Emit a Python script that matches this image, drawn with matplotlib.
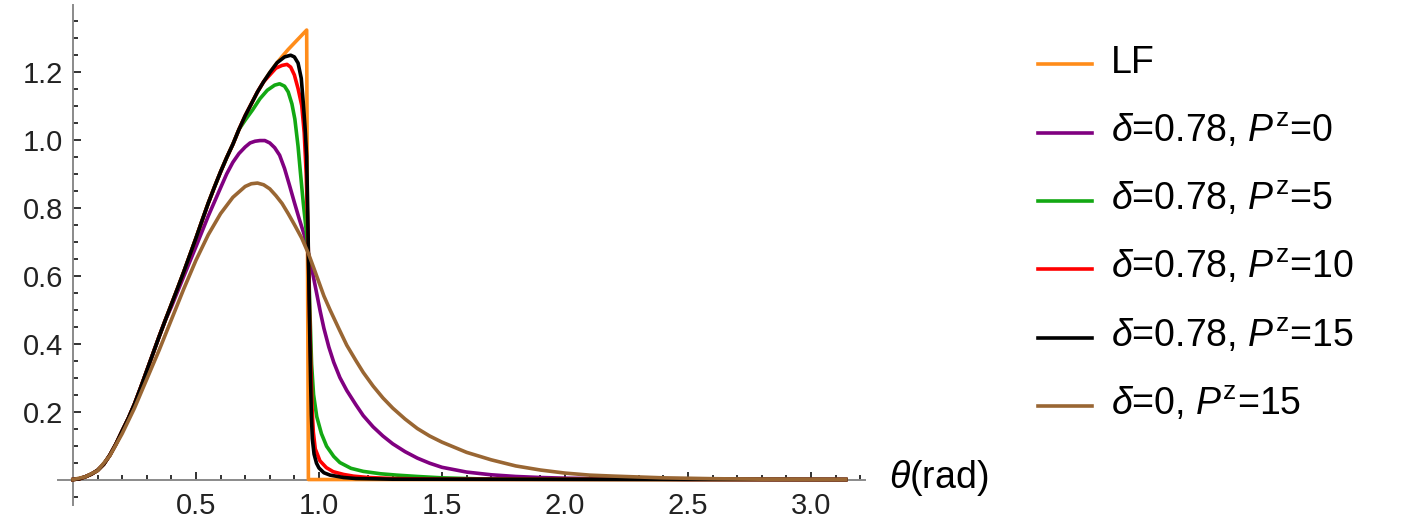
import matplotlib
matplotlib.use("Agg")
import matplotlib.pyplot as plt
from matplotlib.lines import Line2D

plt.rcParams['font.family'] = ['Liberation Sans', 'DejaVu Sans']
plt.rcParams['mathtext.fontset'] = 'custom'
plt.rcParams['mathtext.rm'] = 'Liberation Sans'
plt.rcParams['mathtext.it'] = 'Liberation Sans:italic'

# values
# rising part shared by LF and the delta=0.78 curves (they lie on top of each other)
theta_rise = [0.0, 0.025, 0.05, 0.075, 0.10, 0.125, 0.15, 0.175, 0.20, 0.225, 0.25, 0.275,
              0.30, 0.325, 0.35, 0.375, 0.40, 0.425, 0.45, 0.475, 0.50, 0.525, 0.55, 0.575,
              0.60, 0.625, 0.65, 0.675, 0.70, 0.725, 0.75, 0.775, 0.80]
rise = [0.0, 0.002, 0.008, 0.016, 0.027, 0.045, 0.072, 0.105, 0.143, 0.18, 0.222, 0.27,
        0.32, 0.37, 0.42, 0.468, 0.515, 0.562, 0.61, 0.66, 0.71, 0.762, 0.813, 0.86,
        0.905, 0.947, 0.986, 1.03, 1.07, 1.105, 1.14, 1.17, 1.197]

theta_lf_top = [0.825, 0.85, 0.875, 0.90, 0.925, 0.95, 0.957, 3.1416]
lf_top = [1.222, 1.244, 1.265, 1.284, 1.303, 1.322, 0.0, 0.0]

# purple leaves the shared curve early, so it has its own early part
theta_p0_head = [0.40, 0.45, 0.50, 0.55, 0.60, 0.625, 0.65, 0.675, 0.70]
p0_head = [0.508, 0.597, 0.685, 0.775, 0.858, 0.899, 0.933, 0.959, 0.978]
theta_p0_tail = [0.72, 0.74, 0.76, 0.78, 0.80, 0.82, 0.84, 0.86, 0.88, 0.90, 0.92, 0.94,
                 0.957, 0.975, 0.99, 1.005, 1.02, 1.04, 1.06, 1.085, 1.113, 1.15, 1.18,
                 1.22, 1.26, 1.30, 1.35, 1.40, 1.45, 1.5, 1.6, 1.7, 1.8, 1.9, 2.0, 2.2,
                 2.5, 3.1416]
p0_tail = [0.99, 0.995, 0.997, 0.997, 0.99, 0.976, 0.954, 0.915, 0.866, 0.815, 0.766, 0.72,
           0.665, 0.605, 0.55, 0.495, 0.445, 0.39, 0.345, 0.30, 0.262, 0.22, 0.188,
           0.155, 0.128, 0.105, 0.082, 0.063, 0.048, 0.036, 0.022, 0.014, 0.009, 0.006, 0.004,
           0.002, 0.0005, 0.0]

theta_p5_tail = [0.70, 0.73, 0.76, 0.79, 0.82, 0.84, 0.86, 0.875, 0.89, 0.902, 0.915, 0.925,
                 0.936, 0.947, 0.957, 0.963, 0.970, 0.978, 0.991, 1.01, 1.031, 1.06, 1.085,
                 1.13, 1.18, 1.25, 1.316, 1.4, 1.5, 1.65, 1.8, 3.1416]
p5_tail = [1.057, 1.087, 1.12, 1.145, 1.16, 1.164, 1.157, 1.14, 1.105, 1.06, 0.98, 0.9,
           0.815, 0.74, 0.665, 0.5, 0.34, 0.25, 0.185, 0.135, 0.098, 0.068, 0.05,
           0.033, 0.024, 0.017, 0.013, 0.009, 0.005, 0.002, 0.001, 0.0]

theta_p10_tail = [0.825, 0.85, 0.87, 0.885, 0.90, 0.915, 0.93, 0.94, 0.948, 0.953, 0.957,
                  0.962, 0.967, 0.972, 0.977, 0.985, 1.004, 1.03, 1.058, 1.1, 1.14, 1.2,
                  1.3, 1.5, 3.1416]
p10_tail = [1.21, 1.218, 1.221, 1.213, 1.19, 1.15, 1.10, 1.02, 0.9, 0.78, 0.665,
            0.48, 0.33, 0.21, 0.14, 0.09, 0.055, 0.035, 0.023, 0.015, 0.010, 0.006,
            0.003, 0.001, 0.0]

theta_p15_tail = [0.83, 0.86, 0.885, 0.90, 0.915, 0.928, 0.936, 0.944, 0.95, 0.954, 0.957,
                  0.960, 0.963, 0.966, 0.969, 0.973, 0.98, 0.99, 1.0, 1.02, 1.045, 1.1,
                  1.15, 1.3, 3.1416]
p15_tail = [1.226, 1.243, 1.248, 1.243, 1.225, 1.18, 1.11, 1.03, 0.95, 0.80, 0.665,
            0.53, 0.41, 0.29, 0.19, 0.12, 0.075, 0.048, 0.034, 0.02, 0.013, 0.006,
            0.003, 0.001, 0.0]

theta_d0 = [0.0, 0.05, 0.10, 0.15, 0.20, 0.25, 0.30, 0.35, 0.40, 0.45, 0.50, 0.55, 0.60,
            0.65, 0.70, 0.725, 0.75, 0.775, 0.80, 0.825, 0.85, 0.875, 0.90, 0.93, 0.957,
            0.98, 1.0, 1.02, 1.045, 1.08, 1.113, 1.15, 1.18, 1.22, 1.26, 1.3, 1.35, 1.40,
            1.45, 1.5, 1.6, 1.7, 1.8, 1.9, 2.0, 2.1, 2.2, 2.4, 2.6, 2.8, 3.1416]
d0 = [0.0, 0.008, 0.026, 0.07, 0.135, 0.21, 0.295, 0.38, 0.47, 0.56, 0.645, 0.72, 0.782,
      0.83, 0.862, 0.87, 0.872, 0.867, 0.855, 0.835, 0.812, 0.782, 0.75, 0.71, 0.665,
      0.62, 0.58, 0.54, 0.499, 0.445, 0.395, 0.35, 0.315, 0.275, 0.24, 0.21, 0.178, 0.15,
      0.128, 0.11, 0.08, 0.058, 0.04, 0.028, 0.019, 0.013, 0.01, 0.005, 0.0025, 0.001, 0.0]

labels = ['LF',
          r'$\delta$=0.78, $P^{\rm z}$=0',
          r'$\delta$=0.78, $P^{\rm z}$=5',
          r'$\delta$=0.78, $P^{\rm z}$=10',
          r'$\delta$=0.78, $P^{\rm z}$=15',
          r'$\delta$=0, $P^{\rm z}$=15']
colors = ['#ff8c1a', '#800080', '#13a813', '#ff0000', '#000000', '#996633']

x_major = [0.5, 1.0, 1.5, 2.0, 2.5, 3.0]
y_major = [0.2, 0.4, 0.6, 0.8, 1.0, 1.2]

# assemble each curve from the shared rise and its own part
series = [
    (theta_rise + theta_lf_top, rise + lf_top),
    (theta_rise[:16] + theta_p0_head + theta_p0_tail, rise[:16] + p0_head + p0_tail),
    (theta_rise[:28] + theta_p5_tail, rise[:28] + p5_tail),
    (theta_rise + theta_p10_tail, rise[:32] + [1.19] + p10_tail),
    (theta_rise + theta_p15_tail, rise + p15_tail),
    (theta_d0, d0),
]

W, H = 1415, 521
fig = plt.figure(figsize=(W / 100, H / 100), dpi=100)
ax = fig.add_axes([58.2 / W, 16.3 / H, 806.9 / W, 499.8 / H])

for (tx, ty), c in zip(series, colors):
    ax.plot(tx, ty, color=c, lw=2.6, zorder=3, solid_joinstyle='round')

ax.set_xlim(-0.06, 3.22)
ax.set_ylim(-0.074, 1.396)

for s in ['top', 'right']:
    ax.spines[s].set_visible(False)
for s in ['left', 'bottom']:
    ax.spines[s].set_position(('data', 0))
    ax.spines[s].set_color('#8a8a8a')
    ax.spines[s].set_linewidth(1.4)

ax.set_xticks(x_major)
ax.set_xticklabels([f'{v:.1f}' for v in x_major])
ax.set_xticks([i / 10 for i in range(1, 33)], minor=True)
ax.set_yticks(y_major)
ax.set_yticklabels([f'{v:.1f}' for v in y_major])
ax.set_yticks([i / 20 for i in range(-1, 28)], minor=True)

ax.tick_params(which='both', direction='in', color='#222222', width=1.3)
ax.tick_params(which='major', length=6, labelsize=21, labelcolor='#222222')
ax.tick_params(which='minor', length=3.5)
ax.tick_params(axis='x', which='major', pad=9)
ax.tick_params(axis='y', which='major', pad=7)

# axis label at the right end of the x axis
fig.text(889 / W, 1 - 488 / H, r'$\theta$(rad)', fontsize=27, va='baseline', ha='left')

# legend on the right
for i, (lab, c) in enumerate(zip(labels, colors)):
    base = 73.3 + 68.3 * i
    fig.add_artist(Line2D([1038 / W, 1092 / W], [1 - (base - 9) / H] * 2,
                          transform=fig.transFigure, color=c, lw=2.6))
    fig.text(1111 / W, 1 - base / H, lab, fontsize=27, va='baseline', ha='left')

fig.savefig('out.png', dpi=100)
